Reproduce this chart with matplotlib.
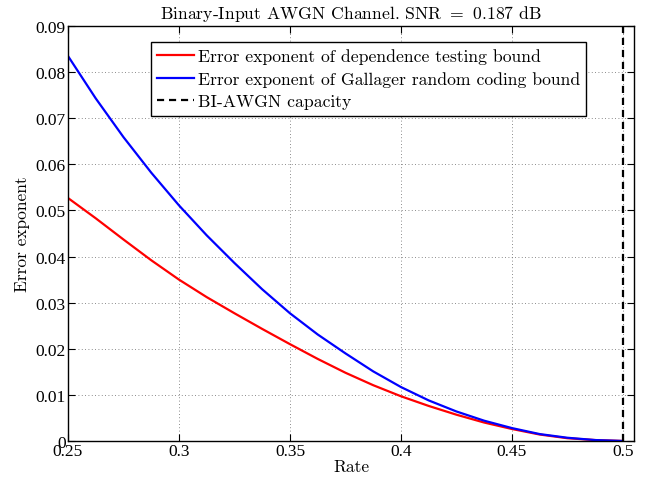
import numpy as np
import matplotlib
matplotlib.use('Agg')
import matplotlib.pyplot as plt
import matplotlib as mpl

mpl.rcParams['figure.dpi'] = 100
mpl.rcParams['mathtext.fontset'] = 'cm'
mpl.rcParams['axes.formatter.use_mathtext'] = True

# data
rate = [0.25, 0.2625, 0.275, 0.2875, 0.3, 0.3125, 0.325, 0.3375, 0.35, 0.3625,
        0.375, 0.3875, 0.4, 0.4125, 0.425, 0.4375, 0.45, 0.4625, 0.475, 0.4875, 0.5]
dep_testing = [0.0527, 0.0483, 0.0437, 0.0392, 0.0350, 0.0312, 0.0277, 0.0243,
               0.0210, 0.0178, 0.0148, 0.0121, 0.0097, 0.0076, 0.0057, 0.0040,
               0.0026, 0.0014, 0.0006, 0.0002, 0.0]
gallager = [0.0835, 0.0743, 0.0659, 0.0582, 0.0511, 0.0446, 0.0386, 0.0329,
            0.0277, 0.0231, 0.0190, 0.0151, 0.0117, 0.0088, 0.0064, 0.0044,
            0.0028, 0.0015, 0.0007, 0.0002, 0.0]
capacity = 0.5
xticks = [0.25, 0.3, 0.35, 0.4, 0.45, 0.5]
xticklabels = ['0.25', '0.3', '0.35', '0.4', '0.45', '0.5']
yticks = [0, 0.01, 0.02, 0.03, 0.04, 0.05, 0.06, 0.07, 0.08, 0.09]
yticklabels = ['0', '0.01', '0.02', '0.03', '0.04', '0.05', '0.06', '0.07', '0.08', '0.09']

cm = 'cmr10'
tickfont = 'Liberation Serif'

fig = plt.figure(figsize=(6.6, 4.85))
ax = fig.add_axes([0.103, 0.0887, 0.8576, 0.8556])

ax.plot(rate, dep_testing, '-', color='#ff0000', lw=1.6,
        label='Error exponent of dependence testing bound')
ax.plot(rate, gallager, '-', color='#0000ff', lw=1.6,
        label='Error exponent of Gallager random coding bound')
ax.axvline(capacity, color='black', lw=1.6, ls=(0, (3.2, 2.2)),
           label='BI-AWGN capacity')

ax.set_xlim(0.25, 0.505)
ax.set_ylim(0, 0.09)
ax.set_xticks(xticks)
ax.set_xticklabels(xticklabels, fontfamily=tickfont, fontsize=12.5)
ax.set_yticks(yticks)
ax.set_yticklabels(yticklabels, fontfamily=tickfont, fontsize=12.5)
ax.tick_params(direction='in', length=5, width=0.8, top=True, right=True, pad=1.5)
ax.grid(True, ls=(0, (1, 3)), color='#666666', lw=0.6)
for s in ax.spines.values():
    s.set_linewidth(1.0)

ax.set_xlabel('Rate', fontfamily=cm, fontsize=12.5, labelpad=0)
ax.set_ylabel('Error exponent', fontfamily=cm, fontsize=12.5, labelpad=4)
ax.set_title(r'Binary-Input AWGN Channel. SNR $=$ 0.187 dB', fontfamily=cm,
             fontsize=12.7, pad=6)

leg = ax.legend(loc='upper left', bbox_to_anchor=(0.1466, 0.961), borderaxespad=0,
                prop={'family': cm, 'size': 12.7}, fancybox=False, framealpha=1,
                edgecolor='black', handlelength=2.1, handletextpad=0.2,
                borderpad=0.35, labelspacing=0.4)
leg.get_frame().set_linewidth(1.0)

fig.savefig('out.png', dpi=100)
